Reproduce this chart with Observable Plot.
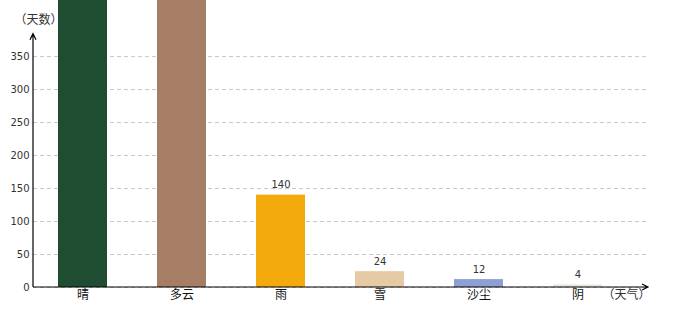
<!DOCTYPE html>
<html><head><meta charset="utf-8">
<script src="https://cdn.jsdelivr.net/npm/d3@7"></script>
<script src="https://cdn.jsdelivr.net/npm/@observablehq/plot@0.6"></script>
<style>body{margin:0;background:#fff}</style>
</head><body><div id="chart"></div>
<script>
const categories = ["晴", "多云", "雨", "雪", "沙尘", "阴"];
const values = [560, 480, 140, 24, 12, 4];
const colors = ["#1f4d32", "#a67d65", "#f3aa0c", "#e6caa3", "#8e9fd3", "#e9e8df"];
const yTicks = [0, 50, 100, 150, 200, 250, 300, 350];
const yLabel = "（天数）";
const xLabel = "（天气）";
const yAxisTop = 384;
const yMax = 435;

const data = categories.map((c, i) => ({category: c, value: values[i], color: colors[i]}));
const visibleLabels = data.filter(d => d.value < yMax - 20);
const cjk = "'Noto Sans CJK SC', sans-serif";

function axisArrows(index, scales, channels, dims) {
  const ns = "http://www.w3.org/2000/svg";
  const g = document.createElementNS(ns, "g");
  const x0 = dims.marginLeft, x1 = dims.width - dims.marginRight;
  const y0 = scales.y(0), y1 = scales.y(yAxisTop);
  const d = `M${x0},${y0}H${x1} M${x1 - 6},${y0 - 3}L${x1},${y0}L${x1 - 6},${y0 + 3}` +
            ` M${x0},${y0}V${y1} M${x0 - 3},${y1 + 6}L${x0},${y1}L${x0 + 3},${y1 + 6}`;
  const p = document.createElementNS(ns, "path");
  p.setAttribute("d", d);
  p.setAttribute("fill", "none");
  p.setAttribute("stroke", "#000");
  p.setAttribute("stroke-width", "1.2");
  g.appendChild(p);
  return g;
}

const plot = Plot.plot({
  width: 680, height: 320,
  marginLeft: 33, marginRight: 32, marginTop: 0, marginBottom: 33,
  style: {fontFamily: "'DejaVu Sans', sans-serif", fontSize: "10px", color: "#333", background: "#fff"},
  x: {domain: categories, insetRight: 21, paddingInner: 0.505, paddingOuter: 0.25, label: null},
  y: {domain: [0, yMax], label: null},
  marks: [
    Plot.gridY(yTicks, {stroke: "#c8c8c8", strokeOpacity: 1, strokeDasharray: "4,3"}),
    Plot.axisY(yTicks, {tickSize: 0, tickPadding: 4, label: null, fontSize: 10, fill: "#333"}),
    Plot.axisX({tickSize: 0, tickPadding: 3, label: null, fontSize: 12, fontFamily: cjk, fill: "#111"}),
    Plot.text([yLabel], {frameAnchor: "top-left", dx: -19, dy: 15, textAnchor: "start", fontSize: 12, fontFamily: cjk, fill: "#333", letterSpacing: "1px"}),
    Plot.text([xLabel], {frameAnchor: "bottom-right", dx: 2, dy: 11, textAnchor: "end", fontSize: 12, fontFamily: cjk, fill: "#333", letterSpacing: "1px"}),
    Plot.barY(data, {x: "category", y: "value", fill: "color", clip: true}),
    Plot.text(visibleLabels, {x: "category", y: "value", text: d => String(d.value), dy: -10, fontSize: 10, fill: "#333"}),
    axisArrows
  ]
});
document.getElementById("chart").appendChild(plot);
</script>
</body></html>
